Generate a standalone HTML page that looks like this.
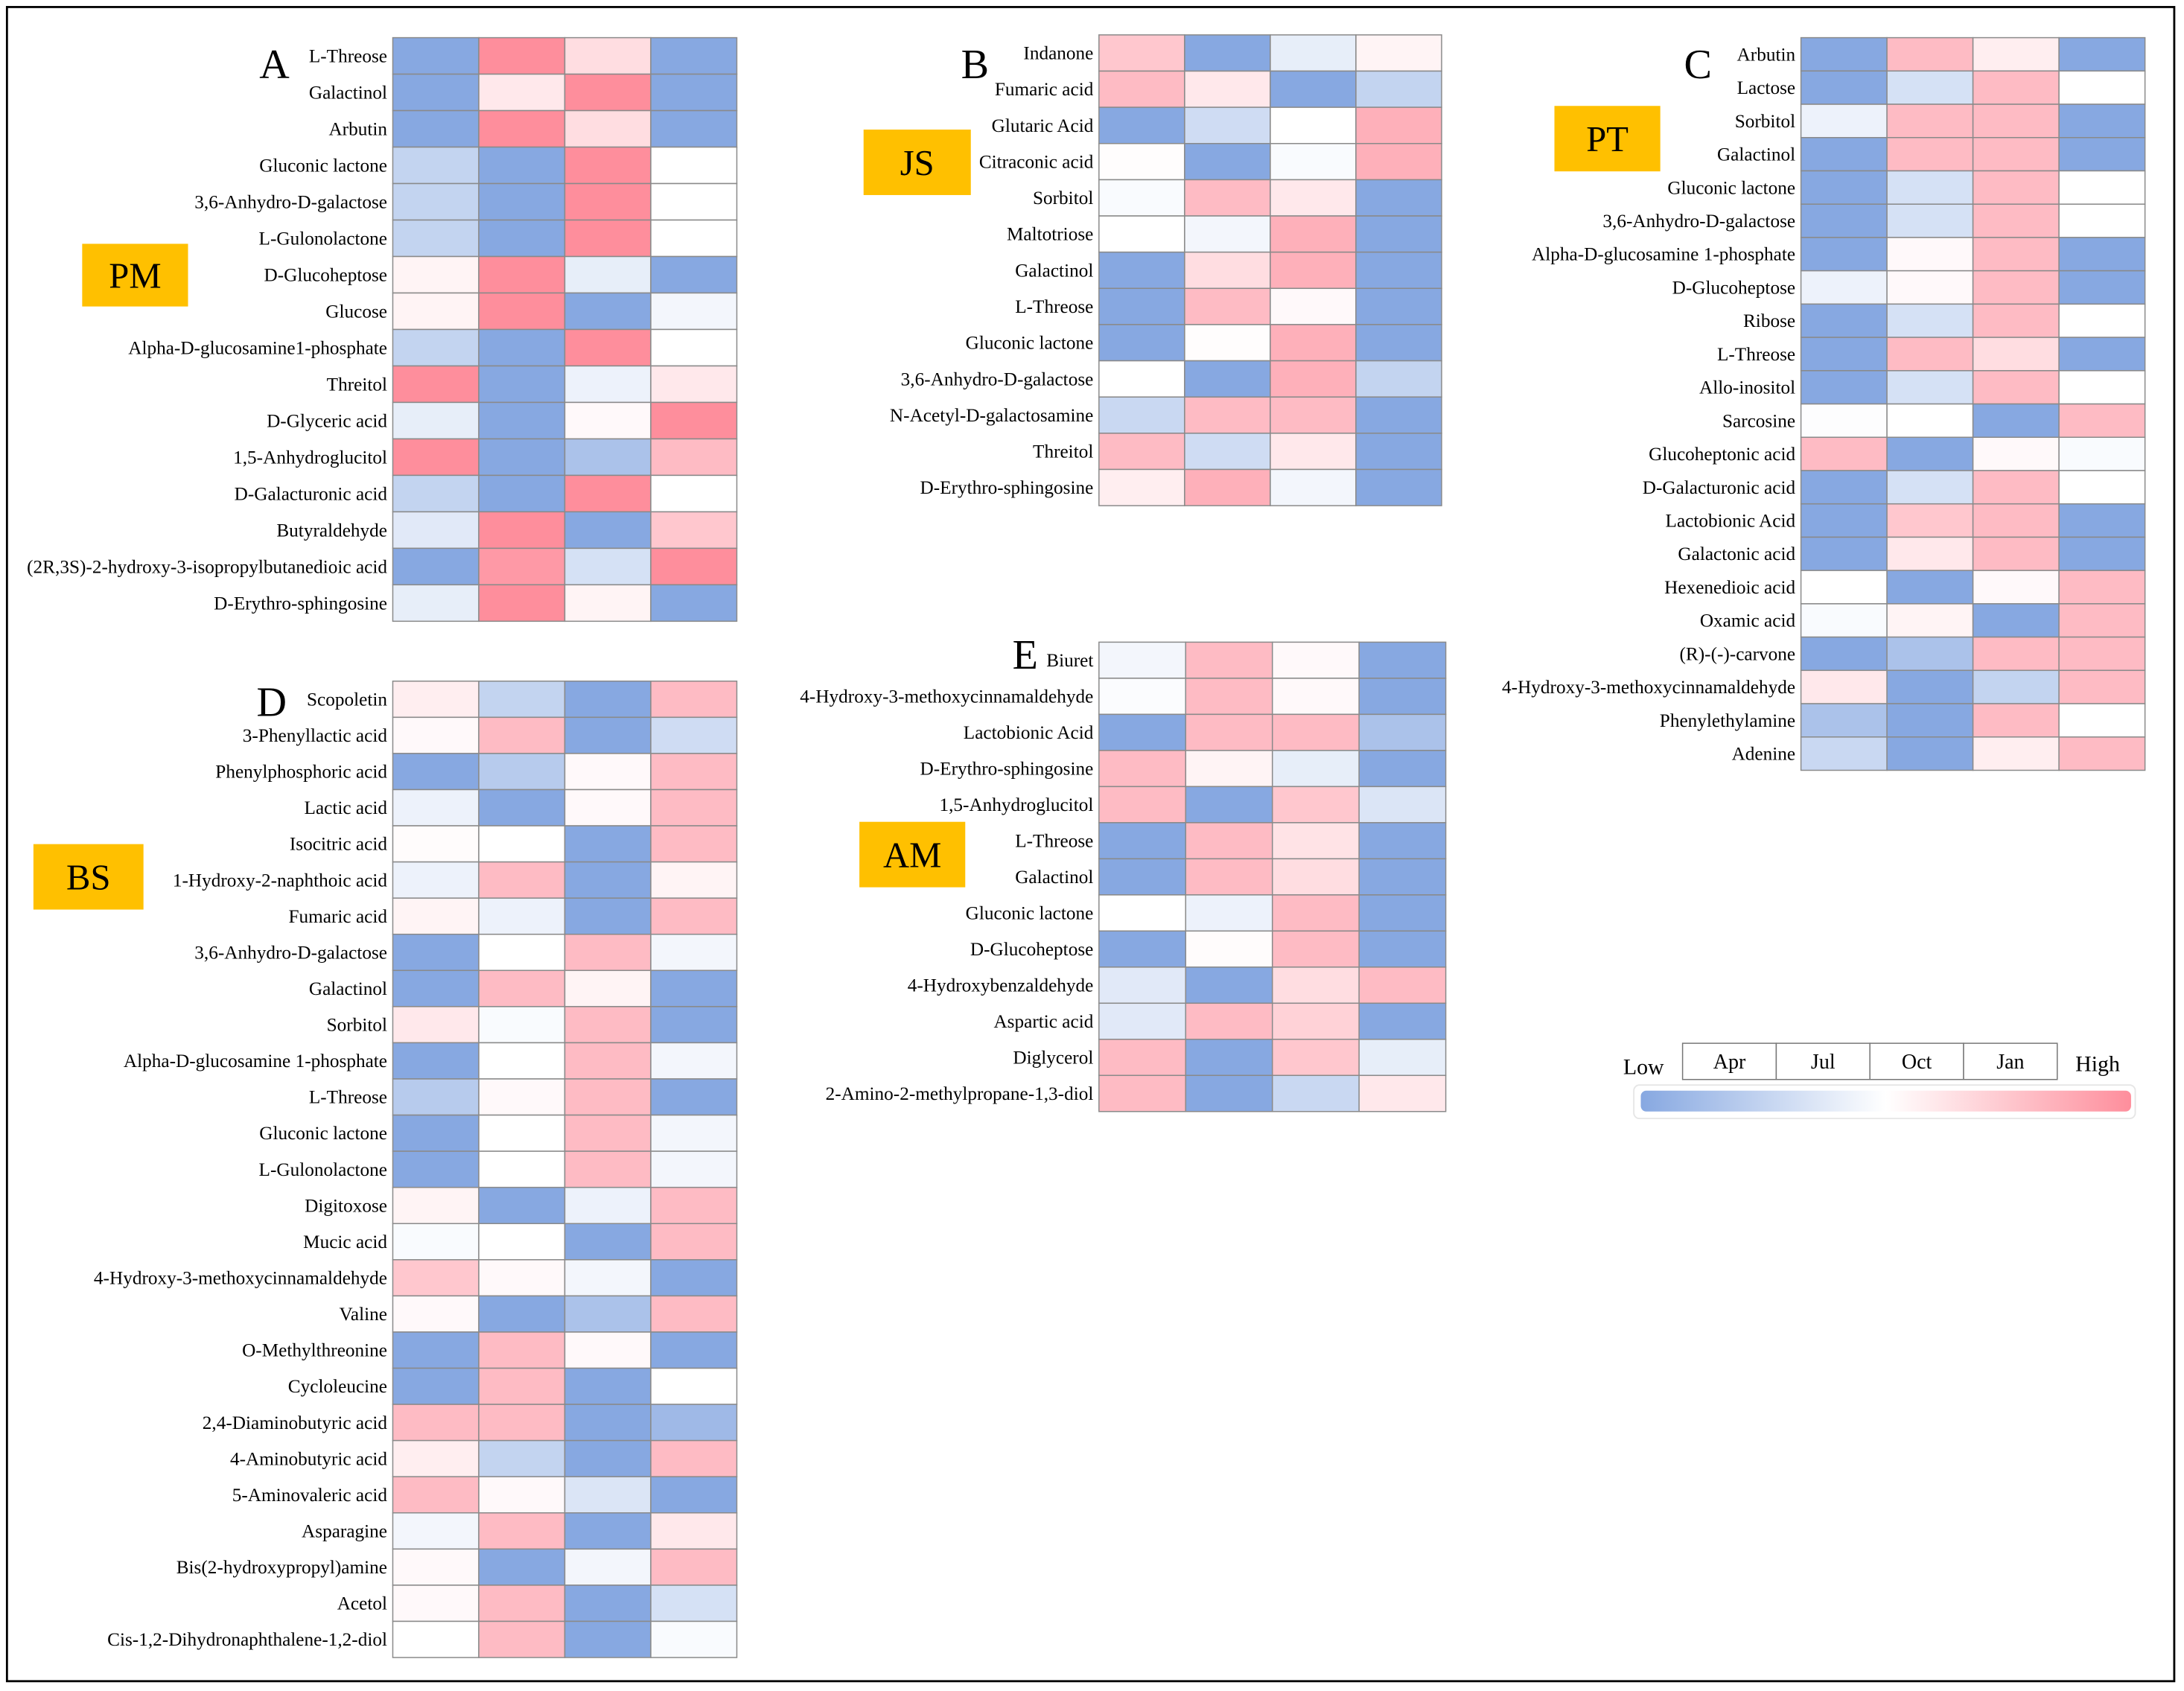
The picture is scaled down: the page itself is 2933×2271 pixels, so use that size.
<!DOCTYPE html>
<html><head><meta charset="utf-8">
<style>
html,body{margin:0;padding:0;background:#fff;}
svg{display:block;}
text{font-family:"Liberation Serif",serif;fill:#000;}
</style></head>
<body>
<svg id="chart" width="2933" height="2271" viewBox="0 0 1568 1214" xmlns="http://www.w3.org/2000/svg">
<rect x="5" y="5" width="1556" height="1202" fill="#fff" stroke="#000" stroke-width="1.5"/>
</svg>
<script>
const columns = ["Apr","Jul","Oct","Jan"];
const rowsA = ["L-Threose","Galactinol","Arbutin","Gluconic lactone","3,6-Anhydro-D-galactose","L-Gulonolactone","D-Glucoheptose","Glucose","Alpha-D-glucosamine1-phosphate","Threitol","D-Glyceric acid","1,5-Anhydroglucitol","D-Galacturonic acid","Butyraldehyde","(2R,3S)-2-hydroxy-3-isopropylbutanedioic acid","D-Erythro-sphingosine"];
const valsA = [[-1,1,.3,-1],[-1,.2,1,-1],[-1,1,.3,-1],[-.5,-1,1,0],[-.5,-1,1,0],[-.5,-1,1,0],[.1,1,-.2,-1],[.1,1,-1,-.1],[-.5,-1,1,0],[1,-1,-.15,.2],[-.2,-1,.05,1],[1,-1,-.7,.6],[-.5,-1,1,0],[-.25,1,-1,.5],[-1,.9,-.35,1],[-.2,1,.1,-1]];
const rowsB = ["Indanone","Fumaric acid","Glutaric Acid","Citraconic acid","Sorbitol","Maltotriose","Galactinol","L-Threose","Gluconic lactone","3,6-Anhydro-D-galactose","N-Acetyl-D-galactosamine","Threitol","D-Erythro-sphingosine"];
const valsB = [[.5,-1,-.2,.1],[.6,.2,-1,-.5],[-1,-.4,0,.7],[.02,-1,-.05,.7],[-.05,.6,.2,-1],[0,-.1,.7,-1],[-1,.3,.7,-1],[-1,.6,.05,-1],[-1,.02,.7,-1],[0,-1,.7,-.5],[-.45,.6,.6,-1],[.6,-.4,.2,-1],[.15,.7,-.1,-1]];
const rowsC = ["Arbutin","Lactose","Sorbitol","Galactinol","Gluconic lactone","3,6-Anhydro-D-galactose","Alpha-D-glucosamine 1-phosphate","D-Glucoheptose","Ribose","L-Threose","Allo-inositol","Sarcosine","Glucoheptonic acid","D-Galacturonic acid","Lactobionic Acid","Galactonic acid","Hexenedioic acid","Oxamic acid","(R)-(-)-carvone","4-Hydroxy-3-methoxycinnamaldehyde","Phenylethylamine","Adenine"];
const valsC = [[-1,.6,.15,-1],[-1,-.35,.6,0],[-.15,.6,.6,-1],[-1,.6,.6,-1],[-1,-.35,.6,0],[-1,-.35,.6,0],[-1,.05,.6,-1],[-.15,.05,.6,-1],[-1,-.35,.6,0],[-1,.6,.3,-1],[-1,-.35,.6,0],[-.02,0,-1,.6],[.6,-1,.05,-.05],[-1,-.35,.6,0],[-1,.5,.6,-1],[-1,.2,.6,-1],[0,-1,.05,.6],[-.05,.1,-1,.6],[-1,-.7,.6,.6],[.2,-1,-.5,.6],[-.7,-1,.6,0],[-.45,-1,.15,.6]];
const rowsD = ["Scopoletin","3-Phenyllactic acid","Phenylphosphoric acid","Lactic acid","Isocitric acid","1-Hydroxy-2-naphthoic acid","Fumaric acid","3,6-Anhydro-D-galactose","Galactinol","Sorbitol","Alpha-D-glucosamine 1-phosphate","L-Threose","Gluconic lactone","L-Gulonolactone","Digitoxose","Mucic acid","4-Hydroxy-3-methoxycinnamaldehyde","Valine","O-Methylthreonine","Cycloleucine","2,4-Diaminobutyric acid","4-Aminobutyric acid","5-Aminovaleric acid","Asparagine","Bis(2-hydroxypropyl)amine","Acetol","Cis-1,2-Dihydronaphthalene-1,2-diol"];
const valsD = [[.15,-.5,-1,.6],[.05,.6,-1,-.4],[-1,-.6,.05,.6],[-.15,-1,.05,.6],[.03,0,-1,.6],[-.15,.6,-1,.1],[.1,-.15,-1,.6],[-1,0,.6,-.1],[-1,.6,.1,-1],[.2,-.05,.6,-1],[-1,0,.6,-.1],[-.6,.05,.6,-1],[-1,0,.6,-.1],[-1,0,.6,-.1],[.1,-1,-.15,.6],[-.05,0,-1,.6],[.5,.05,-.1,-1],[.05,-1,-.7,.6],[-1,.6,.05,-1],[-1,.6,-1,0],[.6,.6,-1,-.8],[.15,-.5,-1,.6],[.6,.05,-.3,-1],[-.1,.6,-1,.2],[.05,-1,-.1,.6],[.05,.6,-1,-.35],[0,.6,-1,-.05]];
const rowsE = ["Biuret","4-Hydroxy-3-methoxycinnamaldehyde","Lactobionic Acid","D-Erythro-sphingosine","1,5-Anhydroglucitol","L-Threose","Galactinol","Gluconic lactone","D-Glucoheptose","4-Hydroxybenzaldehyde","Aspartic acid","Diglycerol","2-Amino-2-methylpropane-1,3-diol"];
const valsE = [[-.1,.6,.05,-1],[-.03,.6,.05,-1],[-1,.6,.6,-.7],[.6,.1,-.2,-1],[.6,-1,.5,-.3],[-1,.6,.25,-1],[-1,.6,.3,-1],[0,-.15,.6,-1],[-1,.03,.6,-1],[-.25,-1,.3,.6],[-.25,.6,.4,-1],[.6,-1,.5,-.2],[.6,-1,-.45,.2]];

const NS="http://www.w3.org/2000/svg";
const svg=document.getElementById('chart');
function mk(tag,attrs,parent){const e=document.createElementNS(NS,tag);for(const k in attrs)e.setAttribute(k,attrs[k]);(parent||svg).appendChild(e);return e;}
function color(v){
  const w=[255,255,255],b=[135,168,225],p=[254,142,156];
  const t=Math.min(1,Math.abs(v)),c=v<0?b:p;
  return `rgb(${w.map((x,i)=>Math.round(x+(c[i]-x)*t)).join(',')})`;
}
function panel(id,rows,vals,x0,x1,y0,y1,letter,lx,ly,tag,bx,by,bw,bh){
  const g=mk('g',{});
  
  
  const cw=(x1-x0)/columns.length, rh=(y1-y0)/rows.length;
  const colX=i=>x0+i*cw, rowY=j=>y0+j*rh;
  rows.forEach((r,j)=>{
    vals[j].forEach((v,i)=>{
      const c=mk('rect',{x:colX(i),y:rowY(j),width:cw,height:rh,fill:color(v),stroke:'#8a8a8a','stroke-width':0.8},g);
      
      
    });
    const t=mk('text',{x:x0-4,y:rowY(j)+rh/2+4.5,'text-anchor':'end','font-size':13.5},g);
    t.textContent=r;
    
    
  });
  const L=mk('text',{x:lx,y:ly,'text-anchor':'middle','font-size':30},g);
  L.textContent=letter;
  
  
  const bxr=mk('rect',{x:bx,y:by,width:bw,height:bh,fill:'#ffc000'},g);
  
  
  const bt=mk('text',{x:bx+bw/2,y:by+bh/2+9,'text-anchor':'middle','font-size':26},g);
  bt.textContent=tag;
  
  
}
panel('a',rowsA,valsA,282,529,27,446,'A',197,56,'PM',59,175,76,45);
panel('b',rowsB,valsB,789,1035,25,363,'B',700,56,'JS',620,93,77,47);
panel('c',rowsC,valsC,1293,1540,27,553,'C',1219,56,'PT',1116,76,76,47);
panel('d',rowsD,valsD,282,529,489,1190,'D',195,514,'BS',24,606,79,47);
panel('e',rowsE,valsE,789,1038,461,798,'E',736,480,'AM',617,590,76,47);

const lg=mk('g',{});


const defs=mk('defs',{},lg);
const grad=mk('linearGradient',{id:'lgGrad',x1:0,x2:1,y1:0,y2:0},defs);
mk('stop',{offset:'0',"stop-color":'#87a8e1'},grad);
mk('stop',{offset:'0.5',"stop-color":'#ffffff'},grad);
mk('stop',{offset:'1',"stop-color":'#fe8e9c'},grad);
const lx0=1208,lx1=1477,lcw=(lx1-lx0)/columns.length;
columns.forEach((c,i)=>{
  const r=mk('rect',{x:lx0+i*lcw,y:749,width:lcw,height:26,fill:'#fff',stroke:'#777','stroke-width':0.8},lg);
  
  
  const t=mk('text',{x:lx0+(i+.5)*lcw,y:767,'text-anchor':'middle','font-size':15},lg);
  t.textContent=c;
  
  
});
const low=mk('text',{x:1180,y:771,'text-anchor':'middle','font-size':16},lg);
low.textContent='Low';


const high=mk('text',{x:1506,y:769,'text-anchor':'middle','font-size':16},lg);
high.textContent='High';


const frame=mk('rect',{x:1173,y:779,width:360,height:24,rx:4,fill:'#fff',stroke:'#e6e6e6','stroke-width':1},lg);


const bar=mk('rect',{x:1178,y:783,width:352,height:15,rx:4,fill:'url(#lgGrad)'},lg);


</script>
</body></html>
